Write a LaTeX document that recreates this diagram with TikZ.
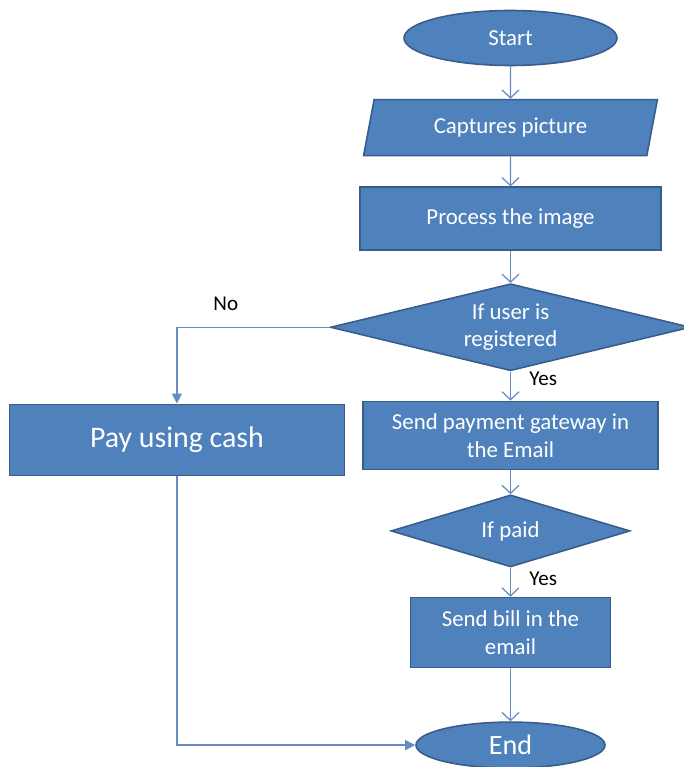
\documentclass[tikz,border=0pt]{standalone}
\usepackage{fontspec}
\setmainfont{Carlito}
\usetikzlibrary{shapes.geometric,arrows.meta,positioning,calc}
\definecolor{boxfill}{RGB}{79,129,189}
\definecolor{boxedge}{RGB}{56,93,138}
\definecolor{linecolor}{RGB}{100,140,192}

\begin{document}
\begin{tikzpicture}[
    node distance=0.6cm,
    terminal/.style={ellipse, draw=boxedge, fill=boxfill, line width=0.9pt, text=white, inner sep=0pt, font=\fontsize{13}{15}\selectfont},
    inputbox/.style={trapezium, trapezium left angle=73, trapezium right angle=107, trapezium stretches=true, draw=boxedge, fill=boxfill, line width=0.9pt, text=white, inner sep=0pt, font=\fontsize{13}{15}\selectfont},
    process/.style={rectangle, draw=boxedge, fill=boxfill, line width=0.9pt, text=white, align=center, inner sep=0pt, font=\fontsize{13}{16}\selectfont},
    decision/.style={diamond, aspect=4, draw=boxedge, fill=boxfill, line width=0.9pt, text=white, align=center, inner sep=0pt, font=\fontsize{13}{15}\selectfont},
    arrow/.style={draw=linecolor, line width=0.7pt, -{Straight Barb[length=1.6mm,width=3.4mm]}},
    arrowfill/.style={draw=linecolor, line width=0.7pt, -{Triangle[length=2mm,width=2mm]}},
    answer/.style={font=\fontsize{12}{14}\selectfont, text=black}
]
\useasboundingbox (0,0) rectangle (13.66,-15.34);

% Start
\node[terminal, minimum width=4.26cm, minimum height=1.1cm] (start) at (10.21,-0.76) {Start};

% Input
\node[inputbox, minimum width=5.9cm, minimum height=1.12cm, below=0.65cm of start] (capture) {Captures picture};

% Processing
\node[process, minimum width=6.02cm, minimum height=1.26cm, below=0.6cm of capture] (processimg) {Process the image};

% Registration check
\node[decision, minimum width=7.2cm, minimum height=1.74cm, below=0.64cm of processimg] (isreg) {If user is\\registered};

% Yes branch
\node[process, minimum width=5.9cm, minimum height=1.36cm, below=0.58cm of isreg] (sendpay) {Send payment gateway in\\the Email};
\node[decision, minimum width=4.78cm, minimum height=1.44cm, below=0.48cm of sendpay] (ispaid) {If paid};
\node[process, minimum width=4cm, minimum height=1.4cm, below=0.58cm of ispaid] (bill) {Send bill in the\\email};

% No branch
\node[process, minimum width=6.7cm, minimum height=1.42cm, left=0.34cm of sendpay, yshift=-0.09cm, font=\fontsize{17}{20}\selectfont] (cash) {Pay using cash};

% End
\node[terminal, minimum width=3.78cm, minimum height=0.92cm, below=1.06cm of bill, font=\fontsize{16}{19}\selectfont] (stop) {End};

% Arrows
\draw[arrow] (start) -- (capture);
\draw[arrow] (capture) -- (processimg);
\draw[arrow] (processimg) -- (isreg);
\draw[arrow] (isreg) -- node[answer, right=0.25cm, pos=0.25] {Yes} (sendpay);
\draw[arrowfill] (isreg.west) -| node[answer, above=0.2cm, pos=0.34] {No} (cash.north);
\draw[arrow] (sendpay) -- (ispaid);
\draw[arrow] (ispaid) -- node[answer, right=0.25cm, pos=0.37] {Yes} (bill);
\draw[arrow] (bill) -- (stop);
\draw[arrowfill] (cash.south) |- (stop.west);

\end{tikzpicture}
\end{document}
